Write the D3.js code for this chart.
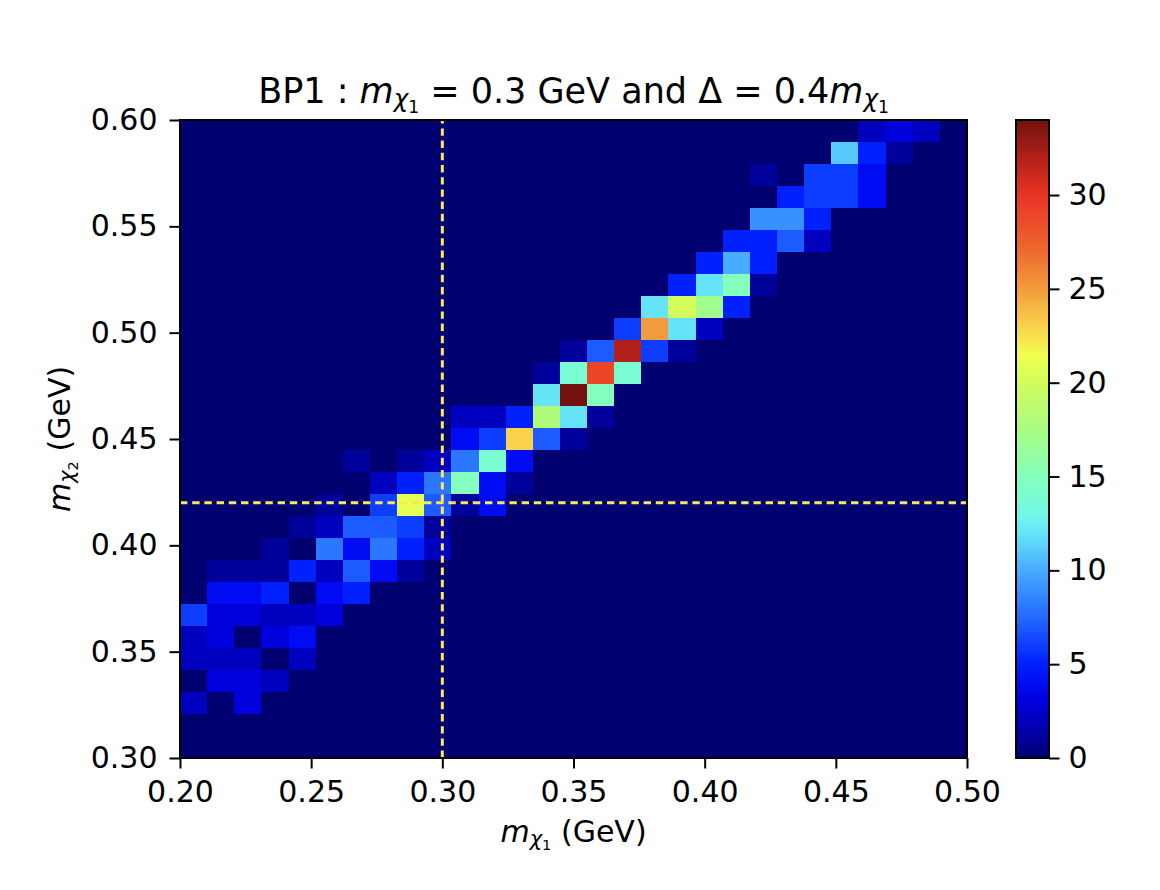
<!DOCTYPE html>
<html lang="en">
<head>
  <meta charset="utf-8">
  <title>BP1 : m_chi1 = 0.3 GeV</title>
  <script src="https://d3js.org/d3.v7.min.js"></script>
  <style>
    body { margin: 0; background: #fff; }
    text { font-family: "DejaVu Sans", sans-serif; fill: #000; white-space: pre; }
    .tick text { font-size: 30px; }
    .tick line { stroke-width: 2; }
  </style>
</head>
<body>
  <svg width="1160" height="890"></svg>

  <script>
    // histogram range and binning (same on both axes)
    var xRange = [0.20, 0.50];
    var yRange = [0.30, 0.60];
    var nBins = 29;

    var xTicks = [0.20, 0.25, 0.30, 0.35, 0.40, 0.45, 0.50];
    var yTicks = [0.30, 0.35, 0.40, 0.45, 0.50, 0.55, 0.60];
    var cbTicks = [0, 5, 10, 15, 20, 25, 30];

    // benchmark point (dashed lines)
    var refX = 0.30;
    var refY = 0.42;

    // counts: one row per m_chi2 bin (lowest first), one column per m_chi1 bin
    var counts = [
      [0,0,0,0,0,0,0,0,0,0, 0,0,0,0,0,0,0,0,0,0, 0,0,0,0,0,0,0,0,0],
      [0,0,0,0,0,0,0,0,0,0, 0,0,0,0,0,0,0,0,0,0, 0,0,0,0,0,0,0,0,0],
      [2,0,3,0,0,0,0,0,0,0, 0,0,0,0,0,0,0,0,0,0, 0,0,0,0,0,0,0,0,0],
      [0,3,3,2,0,0,0,0,0,0, 0,0,0,0,0,0,0,0,0,0, 0,0,0,0,0,0,0,0,0],
      [2,2,2,0,2,0,0,0,0,0, 0,0,0,0,0,0,0,0,0,0, 0,0,0,0,0,0,0,0,0],
      [2,3,0,3,4,0,0,0,0,0, 0,0,0,0,0,0,0,0,0,0, 0,0,0,0,0,0,0,0,0],
      [6,3,3,2,2,3,0,0,0,0, 0,0,0,0,0,0,0,0,0,0, 0,0,0,0,0,0,0,0,0],
      [0,4,4,5,0,4,5,0,0,0, 0,0,0,0,0,0,0,0,0,0, 0,0,0,0,0,0,0,0,0],
      [0,1,1,1,5,2,7,4,1,0, 0,0,0,0,0,0,0,0,0,0, 0,0,0,0,0,0,0,0,0],
      [0,0,0,1,0,8,4,8,5,2, 0,0,0,0,0,0,0,0,0,0, 0,0,0,0,0,0,0,0,0],
      [0,0,0,0,1,2,7,7,6,1, 0,0,0,0,0,0,0,0,0,0, 0,0,0,0,0,0,0,0,0],
      [0,0,0,0,0,1,0,6,21,7, 1,4,0,0,0,0,0,0,0,0, 0,0,0,0,0,0,0,0,0],
      [0,0,0,0,0,0,0,2,5,8, 15,4,1,0,0,0,0,0,0,0, 0,0,0,0,0,0,0,0,0],
      [0,0,0,0,0,0,1,0,1,2, 8,14,4,0,0,0,0,0,0,0, 0,0,0,0,0,0,0,0,0],
      [0,0,0,0,0,0,0,0,0,0, 4,6,23,7,1,0,0,0,0,0, 0,0,0,0,0,0,0,0,0],
      [0,0,0,0,0,0,0,0,0,0, 2,2,5,18,12,1,0,0,0,0, 0,0,0,0,0,0,0,0,0],
      [0,0,0,0,0,0,0,0,0,0, 0,0,0,12,34,15,0,0,0,0, 0,0,0,0,0,0,0,0,0],
      [0,0,0,0,0,0,0,0,0,0, 0,0,0,1,14,29,14,0,0,0, 0,0,0,0,0,0,0,0,0],
      [0,0,0,0,0,0,0,0,0,0, 0,0,0,0,1,7,32,6,1,0, 0,0,0,0,0,0,0,0,0],
      [0,0,0,0,0,0,0,0,0,0, 0,0,0,0,0,0,6,25,12,2, 0,0,0,0,0,0,0,0,0],
      [0,0,0,0,0,0,0,0,0,0, 0,0,0,0,0,0,0,12,20,17, 5,0,0,0,0,0,0,0,0],
      [0,0,0,0,0,0,0,0,0,0, 0,0,0,0,0,0,0,0,5,12, 15,1,0,0,0,0,0,0,0],
      [0,0,0,0,0,0,0,0,0,0, 0,0,0,0,0,0,0,0,0,5, 10,5,0,0,0,0,0,0,0],
      [0,0,0,0,0,0,0,0,0,0, 0,0,0,0,0,0,0,0,0,0, 5,5,7,2,0,0,0,0,0],
      [0,0,0,0,0,0,0,0,0,0, 0,0,0,0,0,0,0,0,0,0, 0,9,9,5,0,0,0,0,0],
      [0,0,0,0,0,0,0,0,0,0, 0,0,0,0,0,0,0,0,0,0, 0,0,5,6,6,4,0,0,0],
      [0,0,0,0,0,0,0,0,0,0, 0,0,0,0,0,0,0,0,0,0, 0,1,0,6,6,4,0,0,0],
      [0,0,0,0,0,0,0,0,0,0, 0,0,0,0,0,0,0,0,0,0, 0,0,0,0,11,5,1,0,0],
      [0,0,0,0,0,0,0,0,0,0, 0,0,0,0,0,0,0,0,0,0, 0,0,0,0,0,2,3,2,0]
    ];

    // jet-like colour map as it appears in the picture (fraction of max -> colour)
    var cmapStops = [0, 0.03, 0.06, 0.09, 0.12, 0.15, 0.22, 0.29, 0.35, 0.38, 0.44,
                     0.51, 0.59, 0.63, 0.675, 0.735, 0.80, 0.88, 0.94, 1];
    var cmapColors = ["#000070", "#00009b", "#0000c0", "#0000de", "#000cf5", "#0023ff",
                      "#2369ff", "#46a8ff", "#64e2fa", "#70f8e8", "#84ffbe", "#a5fc84",
                      "#d4fc5a", "#f0ff50", "#fad44b", "#f29b3c", "#ec662e", "#ea3424",
                      "#b42019", "#73120e"];

    var svg = d3.select("svg");

    var plot = {left: 180, right: 967, top: 120, bottom: 758};
    var cb = {left: 1016, right: 1049};

    var x = d3.scaleLinear().domain(xRange).range([plot.left, plot.right]);
    var y = d3.scaleLinear().domain(yRange).range([plot.bottom, plot.top]);

    var xEdges = d3.range(nBins + 1).map(i => xRange[0] + i * (xRange[1] - xRange[0]) / nBins);
    var yEdges = d3.range(nBins + 1).map(j => yRange[0] + j * (yRange[1] - yRange[0]) / nBins);

    var vmax = d3.max(counts, r => d3.max(r));
    var color = d3.scaleLinear()
      .domain(cmapStops.map(s => s * vmax))
      .range(cmapColors)
      .clamp(true);

    var cells = [];
    counts.forEach((row, j) => row.forEach((v, i) => cells.push({i: i, j: j, v: v})));

    // heatmap
    svg.append("g")
      .selectAll("rect")
      .data(cells)
      .join("rect")
        .attr("x", d => x(xEdges[d.i]))
        .attr("y", d => y(yEdges[d.j + 1]))
        .attr("width", d => x(xEdges[d.i + 1]) - x(xEdges[d.i]))
        .attr("height", d => y(yEdges[d.j]) - y(yEdges[d.j + 1]))
        .attr("fill", d => color(d.v))
        .attr("shape-rendering", "crispEdges");

    // benchmark lines
    var dashed = {stroke: "#fde55e", width: 3, dash: "7.4,4.8"};
    svg.append("line")
      .attr("x1", x(refX)).attr("x2", x(refX))
      .attr("y1", plot.bottom).attr("y2", plot.top)
      .attr("stroke", dashed.stroke).attr("stroke-width", dashed.width)
      .attr("stroke-dasharray", dashed.dash);
    svg.append("line")
      .attr("x1", plot.left).attr("x2", plot.right)
      .attr("y1", y(refY)).attr("y2", y(refY))
      .attr("stroke", dashed.stroke).attr("stroke-width", dashed.width)
      .attr("stroke-dasharray", dashed.dash);

    // axes
    svg.append("g")
      .attr("transform", "translate(0," + plot.bottom + ")")
      .call(d3.axisBottom(x).tickValues(xTicks).tickFormat(d3.format(".2f"))
              .tickSize(10.5).tickPadding(12).tickSizeOuter(0))
      .call(g => g.select(".domain").remove());

    svg.append("g")
      .attr("transform", "translate(" + plot.left + ",0)")
      .call(d3.axisLeft(y).tickValues(yTicks).tickFormat(d3.format(".2f"))
              .tickSize(10.5).tickPadding(12).tickSizeOuter(0))
      .call(g => g.select(".domain").remove());

    svg.append("rect")
      .attr("x", plot.left).attr("y", plot.top)
      .attr("width", plot.right - plot.left).attr("height", plot.bottom - plot.top)
      .attr("fill", "none").attr("stroke", "#000").attr("stroke-width", 2);

    // colour bar
    var cbScale = d3.scaleLinear().domain([0, vmax]).range([plot.bottom, plot.top]);
    var grad = svg.append("defs").append("linearGradient")
      .attr("id", "cbgrad")
      .attr("x1", 0).attr("y1", 1).attr("x2", 0).attr("y2", 0);
    grad.selectAll("stop")
      .data(d3.range(0, 101).map(k => k / 100))
      .join("stop")
        .attr("offset", t => t)
        .attr("stop-color", t => color(t * vmax));

    svg.append("rect")
      .attr("x", cb.left).attr("y", plot.top)
      .attr("width", cb.right - cb.left).attr("height", plot.bottom - plot.top)
      .attr("fill", "url(#cbgrad)")
      .attr("stroke", "#000").attr("stroke-width", 2);

    svg.append("g")
      .attr("transform", "translate(" + cb.right + ",0)")
      .call(d3.axisRight(cbScale).tickValues(cbTicks).tickFormat(d3.format("d"))
              .tickSize(10.5).tickPadding(9).tickSizeOuter(0))
      .call(g => g.select(".domain").remove());

    // text with mathtext-like sub/subscripts
    function mathText(sel, parts, fs) {
      var level = 0;
      parts.forEach(function(p) {
        var shift = (p.shift || 0) * fs;
        sel.append("tspan")
          .attr("dy", shift - level)
          .style("font-size", (p.size || 1) * fs + "px")
          .style("font-style", p.it ? "italic" : "normal")
          .text(p.t);
        level = shift;
      });
      return sel;
    }

    function mChi(n) {
      return [
        {t: "m", it: true},
        {t: "\u03c7", it: true, size: 0.7, shift: 0.12},
        {t: n, size: 0.49, shift: 0.28}
      ];
    }

    var cx = (plot.left + plot.right) / 2;

    mathText(svg.append("text")
        .attr("x", cx).attr("y", 103)
        .attr("text-anchor", "middle"),
      [{t: "BP1 : "}].concat(mChi("1"), [{t: " = 0.3 GeV and \u0394 = 0.4"}], mChi("1")),
      35);

    mathText(svg.append("text")
        .attr("x", cx).attr("y", 842)
        .attr("text-anchor", "middle"),
      mChi("1").concat([{t: " (GeV)"}]),
      30);

    mathText(svg.append("text")
        .attr("transform", "translate(70," + (plot.top + plot.bottom) / 2 + ") rotate(-90)")
        .attr("text-anchor", "middle"),
      mChi("2").concat([{t: " (GeV)"}]),
      30);
  </script>
</body>
</html>
